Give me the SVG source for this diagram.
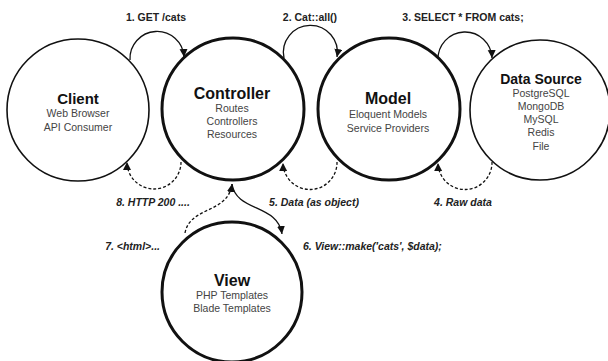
<svg xmlns="http://www.w3.org/2000/svg" width="608" height="361" viewBox="0 0 608 361">
<defs>
<marker id="ah" markerUnits="userSpaceOnUse" markerWidth="10" markerHeight="10" refX="8" refY="4" orient="auto">
<path d="M0,0 L8,4 L0,8 Z" fill="#111"/>
</marker>
<style>
.thin{fill:#fff;stroke:#111;stroke-width:1.6}
.thick{fill:#fff;stroke:#111;stroke-width:3}
.title{font-family:"Liberation Sans",Arial,sans-serif;font-weight:bold;fill:#111;text-anchor:middle}
.sub{font-family:"Liberation Sans",Arial,sans-serif;font-size:10.5px;fill:#444;text-anchor:middle}
.lbl{font-family:"Liberation Sans",Arial,sans-serif;font-size:10.5px;font-weight:bold;fill:#222}
.it{font-style:italic}
.con{fill:none;stroke:#111;stroke-width:1.3;marker-end:url(#ah)}
.dash{stroke-dasharray:3,2}
</style>
</defs>
<rect width="608" height="361" fill="#fff"/>
<g id="connectors">
<path class="con" d="M130,60 A27,27 0 1 1 184,57"/>
<path class="con" d="M284,58 A27,27 0 1 1 337,57"/>
<path class="con" d="M438,60 A27,27 0 1 1 492,58"/>
<path class="con dash" d="M492,162 A27,27 0 1 1 438,163"/>
<path class="con dash" d="M337,162 A27,27 0 1 1 283,163"/>
<path class="con dash" d="M181,162 A27,27 0 1 1 127,162"/>
<path class="con" d="M232,184 C236,212 278,204 282,234"/>
<path class="con dash" d="M185,233 C190,206 228,214 232,184"/>
<text class="lbl" x="156" y="21" text-anchor="middle">1. GET /cats</text>
<text class="lbl" x="310" y="21" text-anchor="middle">2. Cat::all()</text>
<text class="lbl" x="463" y="21" text-anchor="middle">3. SELECT * FROM cats;</text>
<text class="lbl it" x="463" y="206" text-anchor="middle">4. Raw data</text>
<text class="lbl it" x="314" y="206" text-anchor="middle">5. Data (as object)</text>
<text class="lbl it" x="303" y="250">6. View::make('cats', $data);</text>
<text class="lbl it" x="160" y="250" text-anchor="end">7. &lt;html&gt;...</text>
<text class="lbl it" x="153" y="206" text-anchor="middle">8. HTTP 200 ....</text>
</g>
<g id="client">
<circle class="thin" cx="78" cy="110" r="71"/>
<text class="title" x="78" y="104" font-size="15">Client</text>
<text class="sub" x="78" y="117">Web Browser</text>
<text class="sub" x="78" y="131">API Consumer</text>
</g>
<g id="controller">
<circle class="thick" cx="233" cy="109" r="71"/>
<text class="title" x="232" y="99" font-size="16">Controller</text>
<text class="sub" x="232" y="112">Routes</text>
<text class="sub" x="232" y="125">Controllers</text>
<text class="sub" x="232" y="138">Resources</text>
</g>
<g id="model">
<circle class="thick" cx="389" cy="109" r="71"/>
<text class="title" x="388" y="104" font-size="16">Model</text>
<text class="sub" x="388" y="118">Eloquent Models</text>
<text class="sub" x="388" y="132">Service Providers</text>
</g>
<g id="datasource">
<circle class="thin" cx="540" cy="110" r="70"/>
<text class="title" x="541" y="84" font-size="14">Data Source</text>
<text class="sub" x="541" y="97">PostgreSQL</text>
<text class="sub" x="541" y="110">MongoDB</text>
<text class="sub" x="541" y="123">MySQL</text>
<text class="sub" x="541" y="136">Redis</text>
<text class="sub" x="541" y="150">File</text>
</g>
<g id="view">
<circle class="thick" cx="232" cy="292" r="70"/>
<text class="title" x="232" y="286" font-size="16">View</text>
<text class="sub" x="232" y="299">PHP Templates</text>
<text class="sub" x="232" y="312">Blade Templates</text>
</g>
</svg>
